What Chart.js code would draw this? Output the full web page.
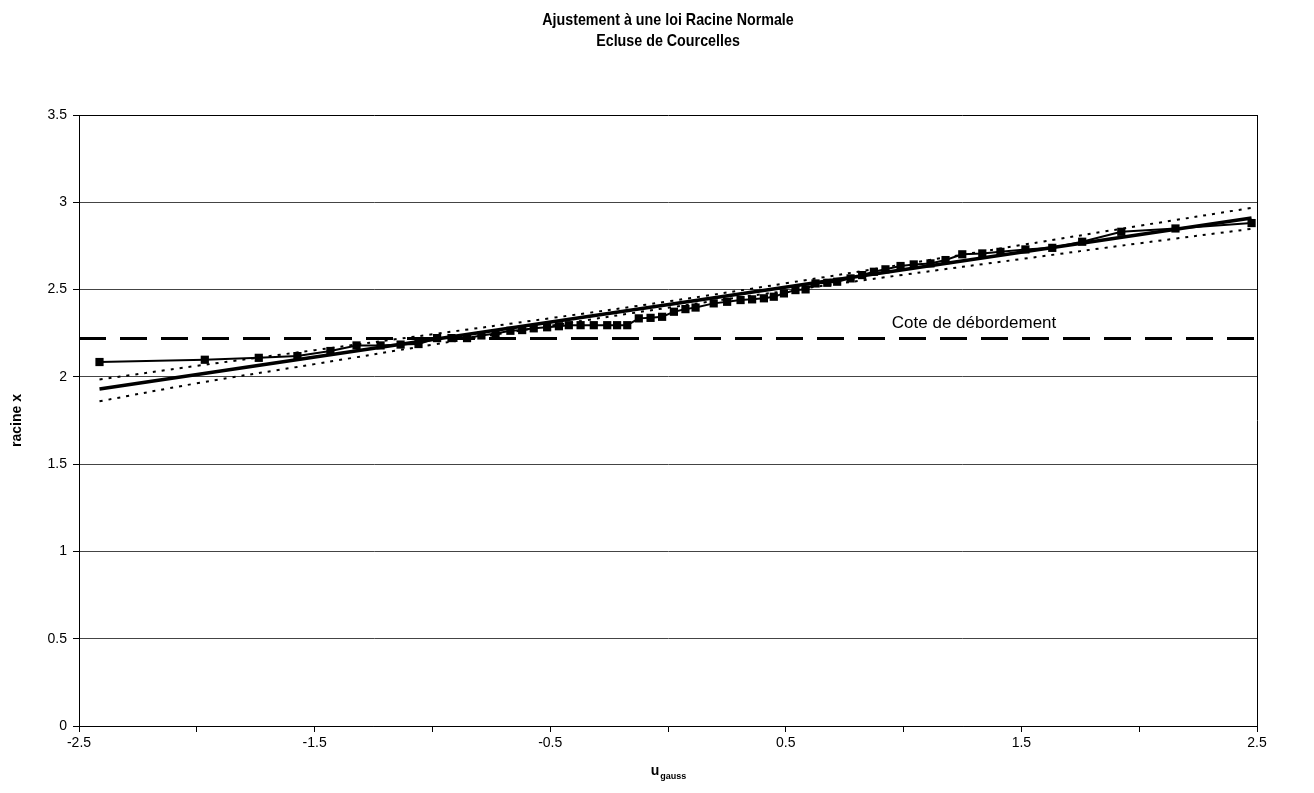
<!DOCTYPE html>
<html>
<head>
<meta charset="utf-8">
<title>Ajustement à une loi Racine Normale</title>
<script src="https://cdn.jsdelivr.net/npm/chart.js@4.4.1/dist/chart.umd.min.js"></script>
<style>
  html, body { margin: 0; padding: 0; background: #fff; }
</style>
</head>
<body>
<canvas id="graphe" width="1314" height="793"></canvas>
<script>
const titre = ['Ajustement à une loi Racine Normale', 'Ecluse de Courcelles'];

// observations classées : u de Gauss et racine des débits
const obsU = [-2.413, -1.966, -1.737, -1.573, -1.433, -1.322, -1.220, -1.135, -1.059, -0.980,
  -0.919, -0.853, -0.792, -0.732, -0.669, -0.619, -0.570, -0.513, -0.463, -0.421,
  -0.371, -0.315, -0.258, -0.216, -0.173, -0.124, -0.074, -0.025, 0.025, 0.074,
  0.117, 0.194, 0.251, 0.308, 0.357, 0.407, 0.449, 0.492, 0.541, 0.584,
  0.626, 0.676, 0.718, 0.775, 0.824, 0.874, 0.923, 0.987, 1.043, 1.114,
  1.178, 1.249, 1.334, 1.411, 1.517, 1.631, 1.758, 1.924, 2.154, 2.477];
const obsRacine = [2.085, 2.098, 2.109, 2.119, 2.148, 2.18, 2.18, 2.185, 2.188, 2.222,
  2.222, 2.222, 2.237, 2.249, 2.264, 2.268, 2.278, 2.284, 2.29, 2.296,
  2.296, 2.296, 2.296, 2.296, 2.296, 2.335, 2.338, 2.344, 2.373, 2.388,
  2.397, 2.421, 2.430, 2.440, 2.444, 2.450, 2.459, 2.478, 2.497, 2.501,
  2.535, 2.539, 2.545, 2.564, 2.583, 2.602, 2.616, 2.635, 2.644, 2.650,
  2.669, 2.702, 2.707, 2.716, 2.730, 2.739, 2.774, 2.831, 2.850, 2.881];

// droite d'ajustement
const ajustU = [-2.413, 2.477];
const ajustRacine = [1.93, 2.91];

// intervalle de confiance
const bandeU = [-2.413, -2, -1.5, -1, -0.5, 0, 0.5, 1, 1.5, 2, 2.477];
const bandeHaute = [1.985, 2.063, 2.153, 2.244, 2.336, 2.432, 2.536, 2.645, 2.755, 2.865, 2.968];
const bandeBasse = [1.860, 1.963, 2.073, 2.184, 2.292, 2.396, 2.492, 2.585, 2.675, 2.765, 2.848];

// cote de débordement
const coteU = [-2.5, 2.5];
const coteDebordement = 2.22;
const coteTexte = 'Cote de débordement';

const xLabels = [-2.5, -1.5, -0.5, 0.5, 1.5, 2.5];

const pts = (xs, ys) => xs.map((x, i) => ({ x: x, y: ys[i] }));

const police = '"Liberation Sans", Arial, sans-serif';

const textes = {
  id: 'textes',
  afterDraw(chart) {
    const { ctx, chartArea, scales } = chart;
    const cx = (chartArea.left + chartArea.right) / 2;
    ctx.save();
    ctx.fillStyle = '#000';
    ctx.textAlign = 'center';
    ctx.textBaseline = 'middle';

    // titre (police étroite)
    ctx.font = 'bold 17px ' + police;
    titre.forEach((t, i) => {
      ctx.save();
      ctx.translate(cx, 20 + i * 21);
      ctx.scale(0.84, 1);
      ctx.fillText(t, 0, 0);
      ctx.restore();
    });

    // titre axe y
    ctx.save();
    ctx.translate(17, (chartArea.top + chartArea.bottom) / 2);
    ctx.rotate(-Math.PI / 2);
    ctx.font = 'bold 14px ' + police;
    ctx.fillText('racine x', 0, 0);
    ctx.restore();

    // titre axe x : u avec indice "gauss"
    ctx.textAlign = 'left';
    ctx.font = 'bold 14px ' + police;
    const wu = ctx.measureText('u').width;
    ctx.font = 'bold 9px ' + police;
    const wg = ctx.measureText('gauss').width;
    const x0 = cx - (wu + wg) / 2;
    ctx.font = 'bold 14px ' + police;
    ctx.fillText('u', x0, 771);
    ctx.font = 'bold 9px ' + police;
    ctx.fillText('gauss', x0 + wu + 1, 777);

    // étiquette de la cote
    ctx.font = '17px ' + police;
    ctx.textBaseline = 'alphabetic';
    ctx.fillText(coteTexte, scales.x.getPixelForValue(0.95), scales.y.getPixelForValue(coteDebordement) - 10);
    ctx.restore();
  }
};

new Chart(document.getElementById('graphe'), {
  type: 'scatter',
  data: {
    datasets: [
      {
        label: 'observations',
        data: pts(obsU, obsRacine),
        showLine: true,
        borderColor: '#000',
        borderWidth: 2,
        pointStyle: 'rect',
        pointRadius: 5.8,
        pointBackgroundColor: '#000',
        pointBorderWidth: 0
      },
      {
        label: 'ajustement',
        data: pts(ajustU, ajustRacine),
        showLine: true,
        borderColor: '#000',
        borderWidth: 3.5,
        pointRadius: 0
      },
      {
        label: 'borne haute',
        data: pts(bandeU, bandeHaute),
        showLine: true,
        borderColor: '#000',
        borderWidth: 2,
        borderDash: [3, 6],
        tension: 0.4,
        pointRadius: 0
      },
      {
        label: 'borne basse',
        data: pts(bandeU, bandeBasse),
        showLine: true,
        borderColor: '#000',
        borderWidth: 2,
        borderDash: [3, 6],
        tension: 0.4,
        pointRadius: 0
      },
      {
        label: coteTexte,
        data: pts(coteU, coteU.map(() => coteDebordement)),
        showLine: true,
        borderColor: '#000',
        borderWidth: 3,
        borderDash: [27, 14],
        pointRadius: 0
      }
    ]
  },
  options: {
    responsive: false,
    animation: false,
    layout: { padding: { top: 115, right: 57, bottom: 0, left: 0 } },
    plugins: {
      legend: { display: false },
      tooltip: { enabled: false }
    },
    scales: {
      x: {
        type: 'linear',
        min: -2.5,
        max: 2.5,
        afterFit: s => { s.height = 67; },
        ticks: {
          stepSize: 0.5,
          autoSkip: false,
          maxRotation: 0,
          padding: 3,
          color: '#000',
          font: { family: police, size: 14 },
          callback: v => xLabels.includes(v) ? String(v) : ''
        },
        grid: {
          color: c => (c.tick && c.tick.value === 2.5) ? '#000' : 'rgba(0,0,0,0)',
          tickColor: '#000',
          tickLength: 6,
          lineWidth: 1
        },
        border: { color: '#000', width: 1 }
      },
      y: {
        min: 0,
        max: 3.5,
        afterFit: s => { s.width = 79; },
        ticks: {
          stepSize: 0.5,
          padding: 6,
          color: '#000',
          font: { family: police, size: 14 },
          callback: v => String(v)
        },
        grid: {
          color: c => (c.tick && c.tick.value === 3.5) ? '#000' : '#444',
          tickColor: '#000',
          tickLength: 6,
          lineWidth: 1
        },
        border: { color: '#000', width: 1 }
      }
    }
  },
  plugins: [textes]
});
</script>
</body>
</html>
